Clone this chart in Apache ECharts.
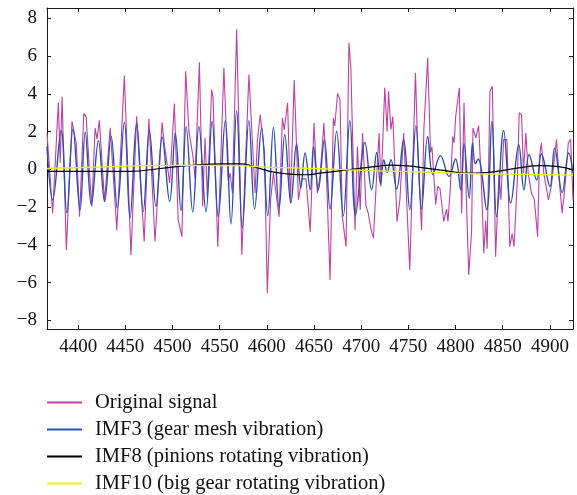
<!DOCTYPE html>
<html>
<head>
    <meta charset="UTF-8">
    <title>IMF decomposition</title>
    <script src="https://cdn.jsdelivr.net/npm/echarts@6/dist/echarts.min.js"></script>
    <style>
        html, body { margin: 0; padding: 0; background: #fff; }
        #chart { width: 577px; height: 495px; }
    </style>
</head>
<body>
<div id="chart"></div>
<script>
    // 刻度
    var xTicks = [4400, 4450, 4500, 4550, 4600, 4650, 4700, 4750, 4800, 4850, 4900];
    var yTicks = [-8, -6, -4, -2, 0, 2, 4, 6, 8];
    var seriesNames = ['Original signal', 'IMF3 (gear mesh vibration)', 'IMF8 (pinions rotating vibration)', 'IMF10 (big gear rotating vibration)'];

    // Original signal (local extrema)
    var origX = [4367, 4373, 4379, 4381, 4383, 4387.5, 4393.5, 4398, 4401.5, 4406, 4408.5, 4413, 4414.5, 4418, 4420, 4422.5, 4428, 4434, 4441, 4449, 4456,
        4462, 4470, 4475, 4481.5, 4489, 4491, 4493, 4497, 4499.5, 4502, 4506, 4510, 4514, 4517.5, 4522, 4524, 4528.5, 4532, 4534.5, 4537, 4541.5, 4543, 4548,
        4554.5, 4559, 4561, 4563.5, 4568, 4573.5, 4581, 4586, 4587.5, 4590, 4593, 4595, 4597.5, 4600.5, 4604, 4607, 4613, 4616.5, 4618.5, 4622, 4625, 4629,
        4633.5, 4637, 4641.5, 4646, 4650, 4652, 4653.5, 4656.5, 4660.5, 4663.5, 4667, 4670.5, 4672, 4675, 4677.5, 4680, 4684, 4687, 4689, 4690.5, 4693.5,
        4696, 4699, 4701.5, 4705, 4707.5, 4710.5, 4713, 4716.5, 4719, 4721, 4725, 4727.5, 4729, 4731.5, 4733.5, 4738, 4741, 4745, 4751.5, 4757.5, 4760,
        4764, 4766.5, 4770.5, 4773.5, 4775, 4779, 4781, 4783.5, 4787.5, 4790.5, 4792, 4794.5, 4797, 4798.5, 4800, 4804, 4806.5, 4809, 4811.5, 4814, 4817,
        4818.5, 4821.5, 4824.5, 4827.5, 4830, 4832, 4833.5, 4836.5, 4839, 4842.5, 4846, 4848, 4851, 4854.5, 4857.5, 4860, 4862, 4865.5, 4867.5, 4870,
        4872, 4874.5, 4877, 4880.5, 4883.5, 4887, 4889, 4891, 4893.5, 4896, 4898.5, 4901.5, 4907, 4910.5, 4913, 4916, 4919.5, 4922, 4924.5];
    var origY = [1.93, -2.32, 3.53, 0.35, 3.85, -4.26, 2.55, 1.4, -2.5, 2.96, 2.8, -0.9, -1.96, 2.2, 1.6, 2.6, -1.7, 2.2, -3.2, 4.98, -4.53,
        2.81, -3.82, 2.68, -3.82, 2.5, 1.5, 1.6, -0.72, 1.4, 3.49, -2.67, -3.56, 5.2, 2.0, 0.6, -0.5, 5.68, -1.96, 1.67, -1.5, 4.23, 3.8, -4.09,
        5.38, -0.6, -0.2, -1.25, 7.42, -4.53, 5.03, 0.2, -1.25, 1.5, 2.9, 2.9, 0.9, -6.56, -1.6, -0.2, -2.5, 2.73, 2.1, 3.53, -1.78, 4.73,
        -1.61, -0.5, -0.5, -3.3, 2.46, 0.3, -1.25, -0.3, 2.46, -0.7, -5.86, 2.73, 2.3, 4.02, 3.7, -2.5, -4.09, 6.71, 5.4, 5.4, -3.2,
        1.22, -2.14, 1.93, -1.9, -2.32, -3.2, -3.64, -0.2, 1.93, -0.9, 4.32, 2.0, 4.14, 2.1, 2.8, -2.76, -1.61, 1.93, -5.33, 5.12, 1.0,
        -3.2, 2.2, 5.92, 0.9, 1.2, -1.87, -0.9, -1.0, -2.76, -2.1, -2.76, -1.0, 1.75, 1.4, 2.73, 4.32, -2.32, 3.53, -1.6, -5.59, -3.3,
        2.2, 1.67, 2.32, -0.8, -4.44, -2.7, -4.2, 4.14, 4.41, -4.62, -0.2, -1.61, 1.58, 1.58, -4.09, -3.4, -4.09, -0.55, 3.0, 2.9,
        -0.2, 1.93, -0.2, -1.25, -1.6, -3.56, 0.7, 1.4, -0.2, -0.9, -1.61, -0.9, 1.58, -0.9, -2.32, -0.9, 1.4, 1.6, -1.61];

    // IMF3
    var imf3X = [4367, 4373, 4382, 4388, 4394.5, 4402, 4407.5, 4414, 4421.5, 4428, 4435, 4441.5, 4449, 4455, 4462, 4469, 4475.5, 4482.5, 4489, 4497,
        4503, 4509, 4514.5, 4521.5, 4528, 4535.5, 4542, 4548.5, 4556, 4562, 4568, 4574, 4581, 4587, 4594.5, 4601, 4607, 4613, 4619, 4625.5, 4631.5,
        4636, 4640.5, 4646, 4649.5, 4654.5, 4661, 4667, 4674, 4681, 4688, 4694, 4704, 4711, 4716.5, 4720.5, 4724, 4727.5, 4731.5, 4737.5, 4745,
        4751.5, 4758, 4764, 4770.5, 4776, 4784, 4793, 4800, 4805.5, 4809, 4814.5, 4818, 4821, 4824, 4833, 4838.5, 4843.5, 4851, 4858.5, 4867,
        4872.5, 4878, 4886, 4891, 4900, 4905, 4913, 4920, 4924.5];
    var imf3Y = [1.22, -1.61, 2.06, -2.3, 2.14, -2.14, 1.97, -1.87, 1.52, -1.7, 1.75, -2.05, 2.5, -2.58, 2.43, -2.23, 2.07, -1.96, 1.72, -1.7,
        1.93, -2.18, 2.28, -2.26, 2.28, -2.23, 2.55, -2.5, 2.6, -2.88, 3.13, -3.11, 2.6, -2.1, 2.2, -2.46, 2.23, -2.05, 1.84, -1.78, 1.36,
        -0.99, 0.87, -1.08, 1.2, -1.08, 1.58, -2.1, 2.02, -2.46, 2.6, -2.4, 1.43, -1.08, 0.9, -0.76, 0.52, -0.16, 0.52, -1.04, 1.58,
        -2.14, 2.32, -2.1, 1.75, -0.28, 0.73, -0.37, 0.55, -1.08, 1.36, -1.52, 1.41, 0.3, 0.55, -2.14, 2.55, -2.5, 2.06, -1.78, 1.31,
        -1.08, 0.78, -0.55, 0.83, -0.9, 1.13, -1.22, 0.87, -0.18];

    // IMF8
    var imf8X = [4367, 4423, 4455, 4487, 4515, 4556, 4572, 4586, 4603, 4621, 4642, 4656, 4681, 4716, 4730, 4746, 4776, 4794, 4812, 4833, 4847, 4865, 4890, 4907, 4924.5];
    var imf8Y = [-0.1, -0.1, -0.1, 0.05, 0.2, 0.3, 0.3, 0.15, -0.1, -0.23, -0.28, -0.2, -0.05, 0.16, 0.23, 0.2, 0.02, -0.1, -0.2, -0.17, -0.08, 0.07, 0.2, 0.16, -0.02];

    // IMF10
    var imf10X = [4367, 4420, 4470, 4520, 4570, 4600, 4650, 4700, 4750, 4800, 4850, 4924.5];
    var imf10Y = [0.05, 0.12, 0.2, 0.22, 0.2, 0.12, 0.05, -0.05, -0.12, -0.2, -0.25, -0.3];

    function pairs(xs, ys) {
        var out = [];
        for (var i = 0; i < xs.length; i++) out.push([xs[i], ys[i]]);
        return out;
    }

    var serif = '"Liberation Serif", "DejaVu Serif", serif';
    var xMin = 4367, xMax = 4924.5, yMin = -8.45, yMax = 8.55;

    function frameAxis(pos, isX, showLabel) {
        var ax = {
            type: 'value',
            position: pos,
            min: isX ? xMin : yMin,
            max: isX ? xMax : yMax,
            splitLine: { show: false },
            axisLine: { show: true, onZero: false, lineStyle: { color: '#1a1a1a', width: 1 } },
            axisTick: {
                show: true, inside: true, length: 4,
                customValues: isX ? xTicks : yTicks,
                lineStyle: { color: '#1a1a1a' }
            },
            axisLabel: {
                show: showLabel,
                customValues: isX ? xTicks : yTicks,
                fontFamily: serif,
                fontSize: 19,
                color: '#111',
                margin: isX ? 9 : 10,
                formatter: function (v) { return String(v).replace('-', '\u2212'); }
            }
        };
        return ax;
    }

    var chart = echarts.init(document.getElementById('chart'));
    var colors = ['#c040a4', '#2a4fb0', '#000000', '#eeee1a'];
    var option = {
        animation: false,
        color: colors,
        grid: { left: 47, right: 4, top: 8, bottom: 166 },
        xAxis: [frameAxis('bottom', true, true), frameAxis('top', true, false)],
        yAxis: [frameAxis('left', false, true), frameAxis('right', false, false)],
        legend: {
            orient: 'vertical',
            left: 47,
            top: 392,
            padding: 0,
            itemWidth: 35,
            itemHeight: 2,
            itemGap: 6,
            icon: 'rect',
            textStyle: { fontFamily: serif, fontSize: 20.5, color: '#111', lineHeight: 20, padding: [0, 0, 0, 8] },
            data: seriesNames
        },
        series: [
            {
                name: seriesNames[0], type: 'line', data: pairs(origX, origY),
                showSymbol: false, lineStyle: { width: 1.1, color: colors[0] }, z: 1
            },
            {
                name: seriesNames[1], type: 'line', data: pairs(imf3X, imf3Y), smooth: 0.4,
                showSymbol: false, lineStyle: { width: 1.4, color: colors[1] }, z: 2
            },
            {
                name: seriesNames[2], type: 'line', data: pairs(imf8X, imf8Y), smooth: 0.5,
                showSymbol: false, lineStyle: { width: 1.2, color: colors[2] }, z: 3
            },
            {
                name: seriesNames[3], type: 'line', data: pairs(imf10X, imf10Y), smooth: 0.5,
                showSymbol: false, lineStyle: { width: 1.3, color: colors[3] }, z: 4
            }
        ]
    };
    chart.setOption(option);
</script>
</body>
</html>
